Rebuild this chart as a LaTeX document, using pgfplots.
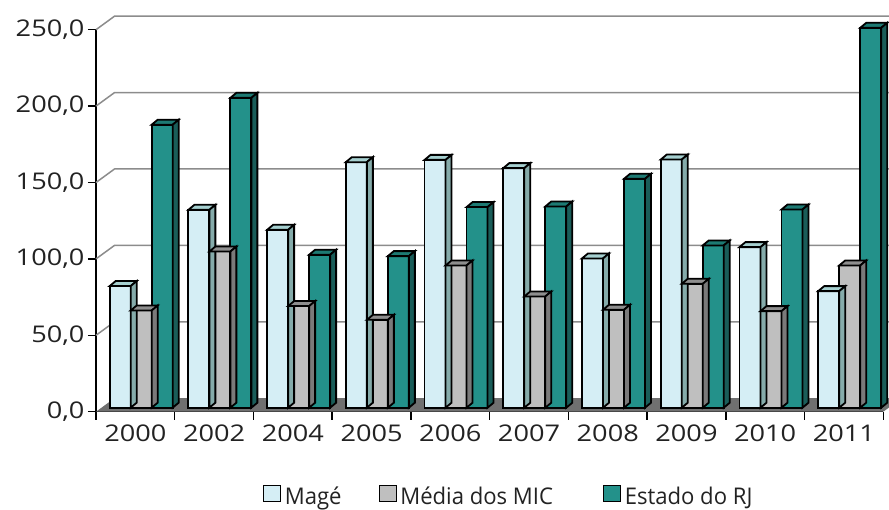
\documentclass[border=0pt]{standalone}
\usepackage{pgfplots}
\pgfplotsset{compat=1.18}
\usepackage{pgfplotstable}
\usepackage{fontspec}
\setmainfont{Open Sans}[FakeStretch=0.96]
\newfontfamily\numfont{Open Sans}[FakeStretch=1.18]

\definecolor{mageFront}{HTML}{D5EEF5}
\definecolor{mageTop}{HTML}{A6D0D0}
\definecolor{mageSide}{HTML}{85ABAA}
\definecolor{micFront}{HTML}{BFBFBF}
\definecolor{micTop}{HTML}{8E8E8E}
\definecolor{micSide}{HTML}{7A7A7A}
\definecolor{rjFront}{HTML}{23918A}
\definecolor{rjTop}{HTML}{1D7A73}
\definecolor{rjSide}{HTML}{1A5D59}
\definecolor{gridgray}{HTML}{8C8C8C}
\definecolor{floorgray}{HTML}{707070}
\definecolor{txt}{HTML}{222222}

% Top and side faces of a column, drawn at the top centre of the column.
% #1 mark name, #2 horizontal shift of the column (pt), #3 top colour, #4 side colour
\newcommand\declarebarmark[4]{%
  \pgfdeclareplotmark{#1}{%
    \pgfmathsetlengthmacro\barh{\vy*1.528}%
    \pgfsetlinewidth{1.8pt}\pgfsetmiterjoin\pgfsetstrokecolor{black}%
    \pgfsetfillcolor{#3}%
    \pgfpathmoveto{\pgfpoint{#2pt-10.5pt}{4pt}}%
    \pgfpathlineto{\pgfpoint{#2pt+10.5pt}{4pt}}%
    \pgfpathlineto{\pgfpoint{#2pt+16.5pt}{9pt}}%
    \pgfpathlineto{\pgfpoint{#2pt-4.5pt}{9pt}}%
    \pgfpathclose\pgfusepath{fill,stroke}%
    \pgfsetfillcolor{#4}%
    \pgfpathmoveto{\pgfpoint{#2pt+10.5pt}{4pt}}%
    \pgfpathlineto{\pgfpoint{#2pt+16.5pt}{9pt}}%
    \pgfpathlineto{\pgfpoint{#2pt+16.5pt}{9pt-\barh}}%
    \pgfpathlineto{\pgfpoint{#2pt+10.5pt}{4pt-\barh}}%
    \pgfpathclose\pgfusepath{fill,stroke}%
  }}
\declarebarmark{mageBox}{-15.2}{mageTop}{mageSide}
\declarebarmark{micBox}{5.8}{micTop}{micSide}
\declarebarmark{rjBox}{26.8}{rjTop}{rjSide}

\pgfplotstableread{
x mage mic rj
0 79.6 63.6 185.2
1 129.5 102.2 202.8
2 116.4 66.5 100.1
3 160.7 57.5 99.2
4 162.2 93.1 131.3
5 156.8 72.8 131.7
6 97.7 64.1 149.8
7 162.4 81.1 106.2
8 105.1 63.2 129.7
9 76.3 93.1 248.6
}\datatable

\newcommand\tickfont{\numfont\fontsize{23}{27}\selectfont}
\newcommand\legfont{\fontsize{23}{27}\selectfont}

\begin{document}
\begin{tikzpicture}
\path[use as bounding box] (-96pt,-97.3pt) rectangle (793pt,411.7pt);
\begin{axis}[
  x=78.73pt, y=1.528pt,
  xmin=-0.5, xmax=9.5, ymin=0, ymax=250,
  clip=false,
  axis x line*=bottom, axis y line*=left,
  axis line style={line width=1.5pt, black},
  tick style={line width=1.5pt, black},
  major tick length=8pt,
  tick align=outside,
  xtick={-0.5,0.5,...,9.5},
  x tick label as interval,
  xticklabels={2000,2002,2004,2005,2006,2007,2008,2009,2010,2011},
  ytick={0,50,...,250},
  scaled y ticks=false,
  yticklabel={\pgfmathprintnumber[fixed,fixed zerofill,precision=1,use comma,assume math mode=true]{\tick}},
  every tick label/.append style={font=\tickfont, text=txt},
  xticklabel style={yshift=-2pt},
  legend style={at={(0.2122,-0.2194)}, anchor=west, draw=none, fill=none,
    inner sep=0pt, outer sep=0pt,
    font=\legfont, text=txt,
    nodes={inner sep=0pt},
    /tikz/every odd column/.style={column sep=4pt},
    /tikz/column 2/.style={column sep=37pt},
    /tikz/column 4/.style={column sep=50pt}},
  legend columns=3,
]
% floor and back-wall grid
\fill[floorgray] (axis cs:-0.5,0) -- ++(18.5pt,13.5pt)
  -- ([shift={(18.5pt,13.5pt)}]axis cs:9.5,0) -- (axis cs:9.5,0) -- cycle;
\pgfplotsinvokeforeach{50,100,...,250}{
  \draw[gridgray, line width=1.5pt] (axis cs:-0.5,#1) -- ++(18.5pt,13.5pt)
    -- ([shift={(18.5pt,13.5pt)}]axis cs:9.5,#1);
}

\addplot[ybar, bar width=21pt, bar shift=-15.2pt, yshift=4pt,
  fill=mageFront, draw=black, line width=1.8pt,
  legend image code/.code={\draw[fill=mageFront, draw=black, line width=0.8pt] (0pt,-8pt) rectangle (17pt,8pt);}]
  table[x=x, y=mage] {\datatable};
\addlegendentry{Magé}
\addplot[only marks, mark=mageBox, forget plot, visualization depends on={rawy \as \vy}]
  table[x=x, y=mage] {\datatable};

\addplot[ybar, bar width=21pt, bar shift=5.8pt, yshift=4pt,
  fill=micFront, draw=black, line width=1.8pt,
  legend image code/.code={\draw[fill=micFront, draw=black, line width=0.8pt] (0pt,-8pt) rectangle (17pt,8pt);}]
  table[x=x, y=mic] {\datatable};
\addlegendentry{Média dos MIC}
\addplot[only marks, mark=micBox, forget plot, visualization depends on={rawy \as \vy}]
  table[x=x, y=mic] {\datatable};

\addplot[ybar, bar width=21pt, bar shift=26.8pt, yshift=4pt,
  fill=rjFront, draw=black, line width=1.8pt,
  legend image code/.code={\draw[fill=rjFront, draw=black, line width=0.8pt] (0pt,-8pt) rectangle (17pt,8pt);}]
  table[x=x, y=rj] {\datatable};
\addlegendentry{Estado do RJ}
\addplot[only marks, mark=rjBox, forget plot, visualization depends on={rawy \as \vy}]
  table[x=x, y=rj] {\datatable};
\end{axis}
\end{tikzpicture}
\end{document}
